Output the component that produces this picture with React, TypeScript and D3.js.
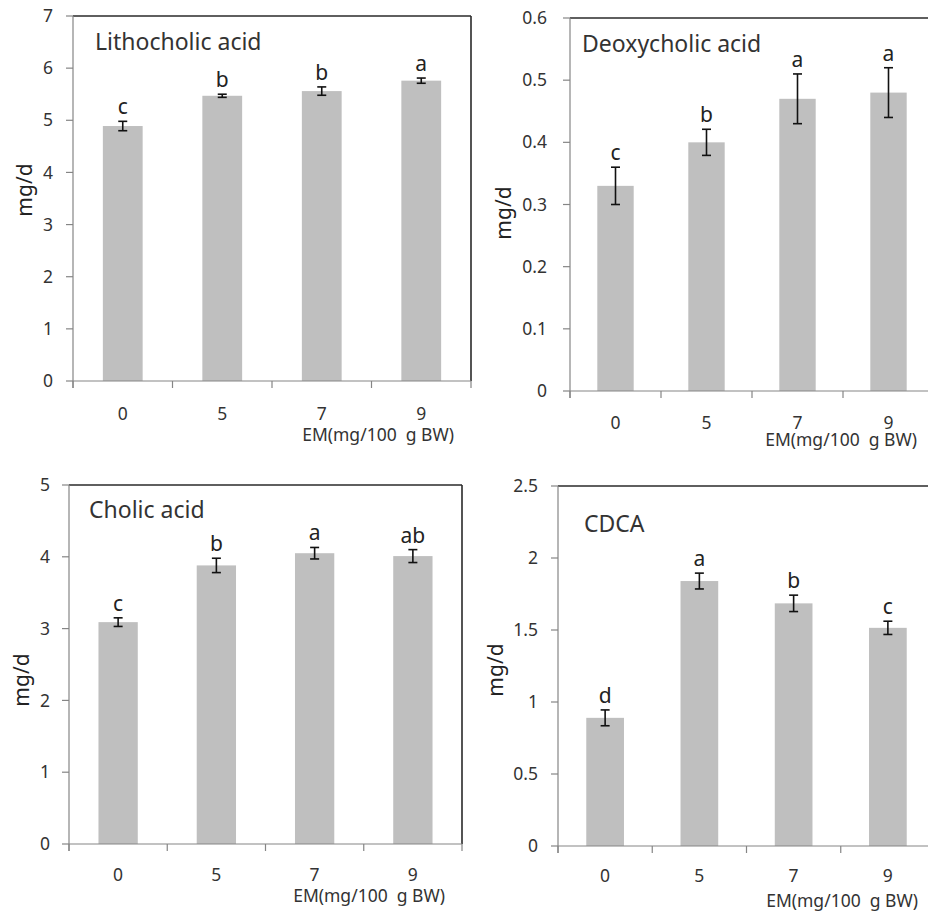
import React from "react";
import * as d3 from "d3";

const categories = ["0", "5", "7", "9"];
const xAxisTitle = "EM(mg/100  g BW)";
const yAxisTitle = "mg/d";

const lithoValues = [4.89, 5.47, 5.56, 5.76];
const lithoErrors = [0.09, 0.03, 0.08, 0.05];
const lithoLetters = ["c", "b", "b", "a"];
const lithoTicks = [0, 1, 2, 3, 4, 5, 6, 7];

const deoxyValues = [0.33, 0.40, 0.47, 0.48];
const deoxyErrors = [0.03, 0.021, 0.04, 0.04];
const deoxyLetters = ["c", "b", "a", "a"];
const deoxyTicks = [0, 0.1, 0.2, 0.3, 0.4, 0.5, 0.6];

const cholicValues = [3.09, 3.88, 4.05, 4.01];
const cholicErrors = [0.06, 0.1, 0.08, 0.09];
const cholicLetters = ["c", "b", "a", "ab"];
const cholicTicks = [0, 1, 2, 3, 4, 5];

const cdcaValues = [0.89, 1.84, 1.685, 1.515];
const cdcaErrors = [0.055, 0.055, 0.057, 0.046];
const cdcaLetters = ["d", "a", "b", "c"];
const cdcaTicks = [0, 0.5, 1, 1.5, 2, 2.5];

const FONT = "'Noto Sans', 'Open Sans', sans-serif";

type PanelProps = {
  id: string;
  title: string;
  values: number[];
  errors: number[];
  letters: string[];
  ticks: number[];
  left: number;
  top: number;
  right: number;
  bottom: number;
  titleX: number;
  titleY: number;
  ylabX: number;
  ylabY: number;
  tickLabGap: number;
  xLabY: number;
  emY: number;
  clipBottom?: number;
};

function Panel(p: PanelProps) {
  const x = d3
    .scaleBand<string>()
    .domain(categories)
    .range([p.left, p.right])
    .paddingInner(0.6)
    .paddingOuter(0.3);
  const yMax = p.ticks[p.ticks.length - 1];
  const y = d3.scaleLinear().domain([0, yMax]).range([p.bottom, p.top]);
  const step = x.step();
  const boundaries = d3.range(categories.length + 1).map((i) => p.left + i * step);
  const fmt = (v: number) => (Number.isInteger(v) ? String(v) : String(+v.toFixed(2)));
  const clipId = `clip-${p.id}`;
  return (
    <g clipPath={p.clipBottom ? `url(#${clipId})` : undefined}>
      {p.clipBottom ? (
        <defs>
          <clipPath id={clipId}>
            <rect x={0} y={0} width={928} height={p.clipBottom} />
          </clipPath>
        </defs>
      ) : null}
      {categories.map((c, i) => (
        <rect
          key={c}
          x={x(c)!}
          y={y(p.values[i])}
          width={x.bandwidth()}
          height={p.bottom - y(p.values[i])}
          fill="#bfbfbf"
        />
      ))}
      <line x1={p.left} x2={p.right} y1={p.top} y2={p.top} stroke="#2a2a2a" strokeWidth={1.6} />
      <line x1={p.right} x2={p.right} y1={p.top} y2={p.bottom} stroke="#2a2a2a" strokeWidth={1.6} />
      <line x1={p.left} x2={p.left} y1={p.top} y2={p.bottom + 7} stroke="#858585" strokeWidth={1.2} />
      <line x1={p.left} x2={p.right} y1={p.bottom} y2={p.bottom} stroke="#858585" strokeWidth={1.2} />
      {p.ticks.map((t) => (
        <g key={t}>
          <line x1={p.left - 7} x2={p.left} y1={y(t)} y2={y(t)} stroke="#858585" strokeWidth={1.2} />
          <text
            x={p.left - p.tickLabGap}
            y={y(t)}
            dy="0.35em"
            textAnchor="end"
            fontSize={17.5}
            fill="#333"
            fontFamily={FONT}
          >
            {fmt(t)}
          </text>
        </g>
      ))}
      {boundaries.map((bx, i) => (
        <line key={i} x1={bx} x2={bx} y1={p.bottom} y2={p.bottom + 7} stroke="#858585" strokeWidth={1.2} />
      ))}
      {categories.map((c) => (
        <text
          key={c}
          x={x(c)! + x.bandwidth() / 2}
          y={p.xLabY}
          textAnchor="middle"
          fontSize={17.5}
          fill="#333"
          fontFamily={FONT}
        >
          {c}
        </text>
      ))}
      <text
        x={p.right - 17}
        y={p.emY}
        textAnchor="end"
        fontSize={17.5}
        fill="#333"
        fontFamily={FONT}
        style={{ whiteSpace: "pre" }}
      >
        {xAxisTitle}
      </text>
      {categories.map((c, i) => {
        const cx = x(c)! + x.bandwidth() / 2;
        const hi = y(p.values[i] + p.errors[i]);
        const lo = y(p.values[i] - p.errors[i]);
        return (
          <g key={c}>
            <line x1={cx} x2={cx} y1={hi} y2={lo} stroke="#111" strokeWidth={1.6} />
            <line x1={cx - 4.5} x2={cx + 4.5} y1={hi} y2={hi} stroke="#111" strokeWidth={1.6} />
            <line x1={cx - 4.5} x2={cx + 4.5} y1={lo} y2={lo} stroke="#111" strokeWidth={1.6} />
            <text x={cx} y={hi - 7} textAnchor="middle" fontSize={21} fill="#222" fontFamily={FONT}>
              {p.letters[i]}
            </text>
          </g>
        );
      })}
      <text x={p.titleX} y={p.titleY} fontSize={23} fill="#333" fontFamily={FONT}>
        {p.title}
      </text>
      <text
        transform={`translate(${p.ylabX},${p.ylabY}) rotate(-90)`}
        dy="0.35em"
        textAnchor="middle"
        fontSize={21}
        fill="#222"
        fontFamily={FONT}
      >
        {yAxisTitle}
      </text>
    </g>
  );
}

export default function App() {
  return (
    <svg
      width={928}
      height={912}
      style={{ position: "absolute", left: 0, top: 0, background: "#fff" }}
    >
      <rect x={0} y={0} width={928} height={912} fill="#fff" />
      <Panel
        id="litho"
        title="Lithocholic acid"
        values={lithoValues}
        errors={lithoErrors}
        letters={lithoLetters}
        ticks={lithoTicks}
        left={73}
        top={16}
        right={471}
        bottom={381}
        titleX={95}
        titleY={50}
        ylabX={25}
        ylabY={190}
        tickLabGap={20}
        xLabY={420}
        emY={441}
      />
      <Panel
        id="deoxy"
        title="Deoxycholic acid"
        values={deoxyValues}
        errors={deoxyErrors}
        letters={deoxyLetters}
        ticks={deoxyTicks}
        left={570}
        top={18}
        right={934}
        bottom={391}
        titleX={582}
        titleY={52}
        ylabX={504}
        ylabY={213}
        tickLabGap={23}
        xLabY={429}
        emY={446}
        clipBottom={451}
      />
      <Panel
        id="cholic"
        title="Cholic acid"
        values={cholicValues}
        errors={cholicErrors}
        letters={cholicLetters}
        ticks={cholicTicks}
        left={69}
        top={485}
        right={462}
        bottom={844}
        titleX={89}
        titleY={518}
        ylabX={22}
        ylabY={680}
        tickLabGap={19}
        xLabY={881}
        emY={902}
      />
      <Panel
        id="cdca"
        title="CDCA"
        values={cdcaValues}
        errors={cdcaErrors}
        letters={cdcaLetters}
        ticks={cdcaTicks}
        left={558}
        top={486}
        right={935}
        bottom={846}
        titleX={584}
        titleY={532}
        ylabX={496}
        ylabY={670}
        tickLabGap={20}
        xLabY={882}
        emY={907}
      />
    </svg>
  );
}
